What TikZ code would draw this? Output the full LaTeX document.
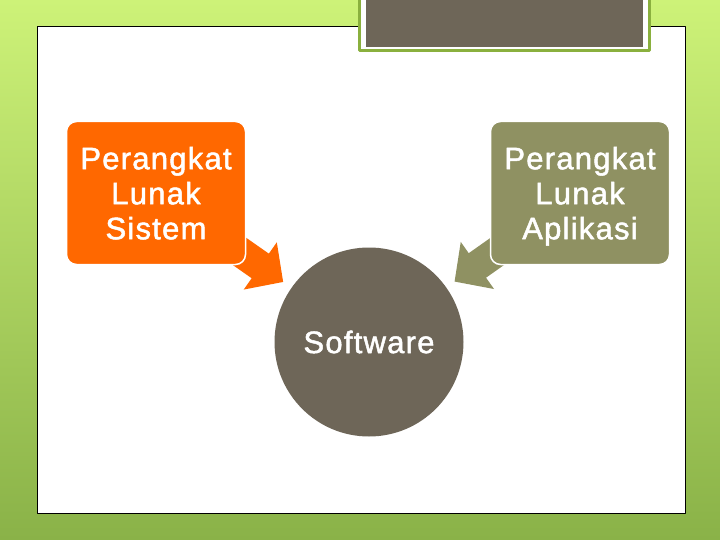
\documentclass[tikz,border=0pt]{standalone}
\usepackage{fontspec}
\setmainfont{Liberation Sans}
\newfontfamily\slidefont{Liberation Sans}[LetterSpace=4, FakeBold=1.6]
\usetikzlibrary{arrows.meta,positioning}
\definecolor{bgTop}{RGB}{205,242,120}
\definecolor{bgBot}{RGB}{138,178,72}
\definecolor{frameGreen}{RGB}{138,176,62}
\definecolor{swBrown}{RGB}{110,102,88}
\definecolor{sysOrange}{RGB}{255,104,0}
\definecolor{appOlive}{RGB}{143,145,98}

\begin{document}
\begin{tikzpicture}[
  x=1pt, y=-1pt,
  line join=round,
  every node/.style={font=\slidefont\fontsize{31}{35}\selectfont, text=white},
  panel/.style={draw=black, line width=0.8pt, fill=white, minimum width=648pt, minimum height=487pt, inner sep=0pt},
  box/.style={rounded corners=10pt, draw=white, line width=1.5pt, align=center, text depth=0pt, minimum width=179pt, minimum height=143pt, inner sep=2pt},
  blob/.style={circle, fill=swBrown, minimum size=189pt, inner sep=0pt},
  bigarrow/.style={line width=30pt, -{Triangle[length=28pt, width=56pt]}, shorten >=10pt}
]
  \useasboundingbox (0,0) rectangle (720,540);
  \shade[top color=bgTop, bottom color=bgBot] (0,0) rectangle (720,540);

  \node[panel] (panel) at (361,269.5) {};
  % title strip at the top edge
  \node[draw=frameGreen, line width=3pt, fill=white, minimum width=290pt, minimum height=58pt, inner sep=0pt] (titleframe) at (504,22) {};
  \node[fill=swBrown, minimum width=277pt, minimum height=54pt, inner sep=0pt] (title) at (504.5,20) {};

  \node[blob] (sw) at (369,342) {Software};
  \coordinate (sysC) at (156,193);
  \coordinate (appC) at (580,193);

  \draw[bigarrow, draw=sysOrange] (sysC) -- (sw);
  \draw[bigarrow, draw=appOlive] (appC) -- (sw);

  \node[box, fill=sysOrange] (sys) at (sysC) {Perangkat\\Lunak\\Sistem};
  \node[box, fill=appOlive] (app) at (appC) {Perangkat\\Lunak\\Aplikasi};
\end{tikzpicture}
\end{document}
